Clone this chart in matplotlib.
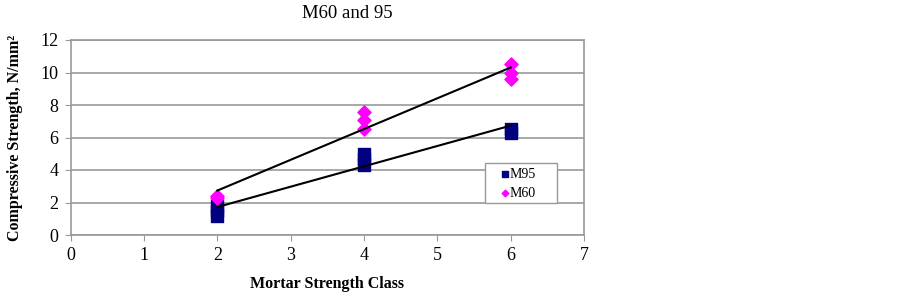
import numpy as np
import matplotlib.pyplot as plt
from matplotlib.patches import Rectangle

plt.rcParams['font.family'] = ['Liberation Serif', 'DejaVu Serif']

# Data
mortar_class = [2, 2, 2, 4, 4, 4, 6, 6]
m95 = [1.2, 1.5, 1.8, 4.3, 4.7, 5.0, 6.3, 6.5]

mortar_class_60 = [2, 2, 4, 4, 4, 6, 6, 6]
m60 = [2.25, 2.4, 7.6, 7.1, 6.5, 10.5, 10.0, 9.6]

xticks = [0, 1, 2, 3, 4, 5, 6, 7]
yticks = [0, 2, 4, 6, 8, 10, 12]

W, H = 902, 293
fig = plt.figure(figsize=(W / 100, H / 100), dpi=100)
ax = fig.add_axes([70.7 / W, 1 - 235 / H, (584 - 70.7) / W, (235 - 40) / H])

ax.scatter(mortar_class, m95, marker='s', s=70, color='#000080', label='M95', zorder=3)
ax.scatter(mortar_class_60, m60, marker='D', s=45, color='#FF00FF', label='M60', zorder=3)

# linear trend lines
for xs, ys in [(mortar_class, m95), (mortar_class_60, m60)]:
    k, b = np.polyfit(xs, ys, 1)
    xl = np.array([2, 6])
    ax.plot(xl, k * xl + b, color='black', linewidth=1.5, zorder=4)

ax.set_xlim(0, 7)
ax.set_ylim(0, 12)
ax.set_xticks(xticks)
ax.set_yticks(yticks)
ax.yaxis.grid(True, color='#999999', linewidth=1.2)
ax.set_axisbelow(True)
for s in ax.spines.values():
    s.set_color('#999999')
    s.set_linewidth(1.2)
ax.tick_params(axis='both', direction='out', color='#999999', length=4, labelsize=13, pad=5)

# title centred over the whole chart area, like Excel
fig.text(347 / W, 1 - 14 / H, 'M60 and 95', fontsize=13.5, ha='center', va='center')
ax.set_xlabel('Mortar Strength Class', fontsize=11.5, fontweight='bold', labelpad=8)
ax.set_ylabel('Compressive Strength, N/mm²', fontsize=11.5, fontweight='bold', labelpad=12)

# Excel-style fixed legend box
box = Rectangle((485 / W, 1 - 203 / H), 72 / W, 40 / H, transform=fig.transFigure,
                facecolor='white', edgecolor='#999999', linewidth=1.0, zorder=5)
ax.add_patch(box)
leg = ax.legend(loc='upper left', bbox_to_anchor=(485 / W, 1 - 163 / H),
                bbox_transform=fig.transFigure, fontsize=10, frameon=False,
                handletextpad=-0.78, borderpad=0.36, labelspacing=0.44, handlelength=2.22,
                markerscale=0.5, borderaxespad=0)
leg.set_zorder(6)

fig.savefig('out.png', dpi=100)
